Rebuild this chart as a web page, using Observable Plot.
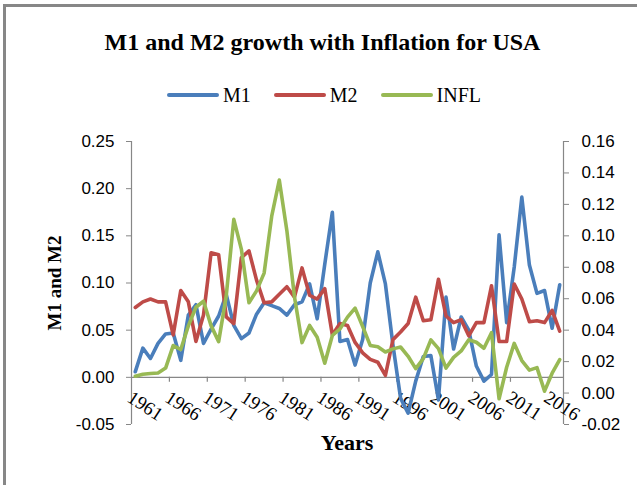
<!DOCTYPE html>
<html>
<head>
<meta charset="utf-8">
<script src="https://cdn.jsdelivr.net/npm/d3@7"></script>
<script src="https://cdn.jsdelivr.net/npm/@observablehq/plot@0.6"></script>
<style>
  html, body { margin: 0; padding: 0; background: #fff; }
  #chart { position: relative; width: 637px; height: 486px; overflow: hidden; background: #fff; }
  #frame { position: absolute; left: 3px; top: 4px; width: 700px; height: 478px;
           border-left: 3px solid #878787; border-top: 3px solid #878787; }
  #title { position: absolute; top: 28px; left: 4px; width: 637px; text-align: center;
           font: bold 24px "Liberation Serif", serif; line-height: 28px; color: #000; white-space: nowrap; }
  #legend { position: absolute; top: 83px; left: 167px; display: flex; align-items: center;
            font: 20px "Liberation Serif", serif; color: #000; line-height: 24px; }
  #legend .item { display: flex; align-items: center; margin-right: 23px; }
  #legend .sw { width: 52px; height: 4px; border-radius: 2px; margin-right: 4px; }
  #ytitle { position: absolute; left: 55px; top: 283px; transform: translate(-50%, -50%) rotate(-90deg);
            font: bold 19px "Liberation Serif", serif; white-space: nowrap; color: #000; }
  #xtitle { position: absolute; left: 347px; top: 443px; transform: translate(-50%, -50%);
            font: bold 22px "Liberation Serif", serif; white-space: nowrap; color: #000; }
  #plot { position: absolute; left: 0; top: 0; }
  g[aria-label="xlabels"] text { letter-spacing: 2px; }
</style>
</head>
<body>
<div id="chart">
  <div id="frame"></div>
  <div id="plot"></div>
  <div id="title">M1 and M2 growth with Inflation for USA</div>
  <div id="legend"></div>
  <div id="ytitle">M1 and M2</div>
  <div id="xtitle">Years</div>
</div>
<script>
// ---- Data ----
const years = [1961,1962,1963,1964,1965,1966,1967,1968,1969,1970,
               1971,1972,1973,1974,1975,1976,1977,1978,1979,1980,
               1981,1982,1983,1984,1985,1986,1987,1988,1989,1990,
               1991,1992,1993,1994,1995,1996,1997,1998,1999,2000,
               2001,2002,2003,2004,2005,2006,2007,2008,2009,2010,
               2011,2012,2013,2014,2015,2016,2017];

const m1 = [0.006,0.031,0.020,0.036,0.046,0.047,0.018,0.066,0.077,0.036,
            0.051,0.065,0.088,0.055,0.041,0.047,0.067,0.079,0.076,0.073,
            0.066,0.077,0.080,0.099,0.062,0.120,0.175,0.038,0.040,0.013,
            0.040,0.100,0.133,0.099,0.034,-0.022,-0.038,-0.004,0.022,0.023,
            -0.024,0.085,0.030,0.064,0.050,0.012,-0.004,0.003,0.151,0.058,
            0.117,0.191,0.119,0.089,0.092,0.052,0.098];

const m2 = [0.074,0.080,0.083,0.080,0.080,0.045,0.092,0.080,0.038,0.066,
            0.132,0.130,0.064,0.057,0.127,0.134,0.103,0.079,0.080,0.088,
            0.096,0.085,0.116,0.087,0.083,0.094,0.045,0.057,0.055,0.037,
            0.026,0.019,0.016,0.002,0.040,0.048,0.057,0.085,0.060,0.061,
            0.104,0.065,0.058,0.061,0.044,0.058,0.058,0.097,0.038,0.038,
            0.099,0.083,0.059,0.060,0.058,0.071,0.049];

const infl = [0.0107,0.0120,0.0124,0.0128,0.0159,0.0302,0.0277,0.0427,0.0546,0.0584,
              0.0429,0.0327,0.0618,0.1105,0.0914,0.0574,0.0650,0.0763,0.1125,0.1355,
              0.1033,0.0613,0.0321,0.0430,0.0355,0.0190,0.0366,0.0408,0.0483,0.0540,
              0.0423,0.0303,0.0295,0.0261,0.0281,0.0293,0.0234,0.0155,0.0219,0.0338,
              0.0283,0.0159,0.0227,0.0268,0.0339,0.0323,0.0285,0.0384,-0.0036,0.0164,
              0.0316,0.0207,0.0146,0.0162,0.0012,0.0126,0.0213];

const xTickLabels = [1961,1966,1971,1976,1981,1986,1991,1996,2001,2006,2011,2016];
const leftTicks  = [-0.05, 0.00, 0.05, 0.10, 0.15, 0.20, 0.25];
const rightTicks = [-0.02, 0.00, 0.02, 0.04, 0.06, 0.08, 0.10, 0.12, 0.14, 0.16];

const seriesNames  = ["M1", "M2", "INFL"];
const seriesColors = ["#4A7EBB", "#BE4B48", "#98B954"];

// ---- Scale helpers ----
const leftDomain  = [leftTicks[0], leftTicks[leftTicks.length - 1]];
const rightDomain = [rightTicks[0], rightTicks[rightTicks.length - 1]];
const toLeft = v => leftDomain[0] + (v - rightDomain[0]) * (leftDomain[1] - leftDomain[0]) / (rightDomain[1] - rightDomain[0]);
const fromLeft = v => rightDomain[0] + (v - leftDomain[0]) * (rightDomain[1] - rightDomain[0]) / (leftDomain[1] - leftDomain[0]);
const xDomain = [years[0] - 0.5, years[years.length - 1] + 0.5];
const tickMarkYears = xTickLabels.slice(0, -1).map(d => d + 4.5);

const rowsM1 = years.map((year, i) => ({year, v: m1[i]}));
const rowsM2 = years.map((year, i) => ({year, v: m2[i]}));
const rowsIN = years.map((year, i) => ({year, v: toLeft(infl[i])}));

const gray = "#878787";
const lineOpts = {x: "year", y: "v", strokeWidth: 3.6, strokeLinejoin: "round", strokeLinecap: "round"};

const chart = Plot.plot({
  width: 637,
  height: 486,
  marginLeft: 131,
  marginRight: 74,
  marginTop: 141,
  marginBottom: 62,
  x: {type: "linear", domain: xDomain, axis: null},
  y: {type: "linear", domain: leftDomain},
  style: {background: "transparent", color: "#000", overflow: "visible"},
  marks: [
    Plot.ruleX([xDomain[0], xDomain[1]], {stroke: gray, strokeWidth: 1.2}),
    Plot.ruleY([0], {stroke: gray, strokeWidth: 1.2}),
    Plot.ruleX(tickMarkYears, {x: d => d, y1: 0, y2: 0, insetBottom: -5, stroke: gray, strokeWidth: 1.2}),
    Plot.axisY({anchor: "left", ticks: leftTicks, tickSize: 5, tickPadding: 12,
                tickFormat: d => d.toFixed(2), label: null, stroke: gray, fill: "#000",
                fontSize: 17, fontFamily: "Liberation Sans, Arial, sans-serif"}),
    Plot.axisY({anchor: "right", ticks: rightTicks.map(toLeft), tickSize: 5, tickPadding: 13,
                tickFormat: d => (Math.round(fromLeft(d) * 100) / 100).toFixed(2), label: null,
                stroke: gray, fill: "#000",
                fontSize: 17, fontFamily: "Liberation Sans, Arial, sans-serif"}),
    Plot.text(xTickLabels, {x: d => d, y: 0, text: d => String(d), rotate: 33,
                textAnchor: "start", lineAnchor: "top", dx: -2, dy: 12,
                fontSize: 19, fontFamily: "Liberation Serif, serif", fill: "#000",
                ariaLabel: "xlabels"}),
    Plot.line(rowsM1, {...lineOpts, stroke: seriesColors[0]}),
    Plot.line(rowsM2, {...lineOpts, stroke: seriesColors[1]}),
    Plot.line(rowsIN, {...lineOpts, stroke: seriesColors[2]})
  ]
});
document.getElementById("plot").appendChild(chart);

// ---- Legend ----
const legend = document.getElementById("legend");
seriesNames.forEach((name, i) => {
  const item = document.createElement("div");
  item.className = "item";
  const sw = document.createElement("div");
  sw.className = "sw";
  sw.style.background = seriesColors[i];
  const label = document.createElement("span");
  label.textContent = name;
  item.appendChild(sw);
  item.appendChild(label);
  legend.appendChild(item);
});
</script>
</body>
</html>
